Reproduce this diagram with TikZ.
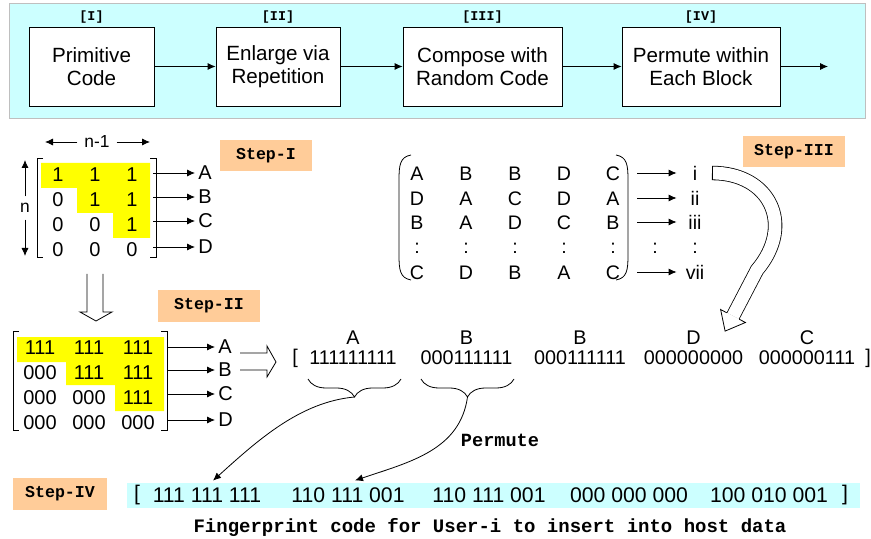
\documentclass[tikz,border=0pt]{standalone}
\usepackage{fontspec}
\setmainfont{Liberation Sans}
\newfontfamily\codefont{Liberation Mono}
\usetikzlibrary{arrows.meta,calc,decorations.pathreplacing,positioning}

\definecolor{skyfill}{HTML}{CCFFFF}
\definecolor{stepfill}{HTML}{FFCC99}
\definecolor{hilite}{HTML}{FFFF00}

\tikzset{
  stage/.style={draw, fill=white, minimum height=39.5pt, align=center, font=\fontsize{10.3}{11.5}\selectfont},
  steplabel/.style={fill=stepfill, minimum width=46pt, minimum height=15.5pt, font=\codefont\bfseries\fontsize{8.3}{10}\selectfont},
  romanlab/.style={font=\codefont\bfseries\fontsize{6.7}{8}\selectfont},
  entry/.style={font=\fontsize{10}{12}\selectfont, inner sep=0pt},
  rowlab/.style={font=\fontsize{10}{12}\selectfont, inner sep=1.5pt},
  codelab/.style={font=\fontsize{9.9}{12}\selectfont},
  arr/.style={-{Latex[length=4pt,width=3.5pt]}},
  hollow/.style={draw, fill=white, line join=miter},
}

\begin{document}
\begin{tikzpicture}[x=0.5pt,y=-0.5pt]
\useasboundingbox (0,0) rectangle (871,539);

% the four stages
\draw[draw=black!25, fill=skyfill] (9,3) rectangle (865,118);
\node[stage, minimum width=62.5pt] (p1) at (91.5,66.5) {Primitive\\Code};
\node[stage, minimum width=62pt] (p2) at (278,66.5) {Enlarge via\\Repetition};
\node[stage, minimum width=79.5pt] (p3) at (482.5,66.5) {Compose with\\Random Code};
\node[stage, minimum width=79pt] (p4) at (701,66.5) {Permute within\\Each Block};
\coordinate (pend) at (828,66.5);
\foreach \a/\b in {p1/p2,p2/p3,p3/p4,p4/pend}
  \draw[arr] (\a) -- (\b);
\foreach \n/\t in {p1/I,p2/II,p3/III,p4/IV}
  \node[romanlab, above=-2pt of \n] {[\t]};

% Step-I: primitive code
\fill[hilite] (41,163) -| (150,238) -| (113,213) -| (77,188) -| (41,163) -- cycle;
\foreach \row [count=\r] in {{1,1,1},{0,1,1},{0,0,1},{0,0,0}}
  \foreach \v [count=\c] in \row
    \node[entry] (a\r\c) at (21+37*\c,150+25*\r) {\v};
\draw (43,158) -- (37,158) -- (37,257) -- (43,257);
\draw (150,158) -- (156,158) -- (156,257) -- (150,257);
\foreach \l/\y in {A/173,B/197,C/221,D/247} {
  \node[rowlab, anchor=west] (u\l) at (195,\y) {\l};
  \draw[arr] (153,\y) -- (u\l.west);
}
\node[font=\fontsize{8.7}{10}\selectfont] (ncol) at (97,142) {n-1};
\draw[arr] (ncol) -- (45,142);
\draw[arr] (ncol) -- (150,142);
\node[font=\fontsize{8.7}{10}\selectfont] (nrow) at (25,208) {n};
\draw[arr] (nrow) -- (25,160);
\draw[arr] (nrow) -- (25,256);
\node[steplabel] (s1) at (266,155.5) {Step-I};

\draw[hollow] (87,274) -- (87,312) -- (80,312) -- (96,321) -- (112,312) -- (103,312) -- (103,274);

% Step-II: repetition
\fill[hilite] (17,337) -| (164,411) -| (115,385) -| (66,362) -| (17,337) -- cycle;
\foreach \row [count=\r] in {{111,111,111},{000,111,111},{000,000,111},{000,000,000}}
  \foreach \v [count=\c] in \row
    \node[entry] (b\r\c) at (-9+49*\c,323+25*\r) {\v};
\draw (19,331) -- (13,331) -- (13,430) -- (19,430);
\draw (161,331) -- (167,331) -- (167,430) -- (161,430);
\foreach \l/\y in {A/347,B/370,C/394,D/420} {
  \node[rowlab, anchor=west] (w\l) at (215,\y) {\l};
  \draw[arr] (167,\y) -- (w\l.west);
}
\node[steplabel, minimum width=51pt] (s2) at (209,306) {Step-II};

\draw[hollow] (240,353) -- (267,353) -- (267,346) -- (276,362) -- (267,377) -- (267,370) -- (240,370);

% Step-III: random code
\foreach \row [count=\r] in {{A,B,B,D,C},{D,A,C,D,A},{B,A,D,C,B},{:,:,:,:,:},{C,D,B,A,C}}
  \foreach \v [count=\c] in \row
    \node[entry, font=\fontsize{9.8}{12}\selectfont] (c\r\c) at (368+49*\c,149+24.75*\r) {\v};
\draw (411,155) .. controls (400,157) and (399,165) .. (399,180) -- (399,255) .. controls (399,270) and (400,278) .. (411,280);
\draw (616,155) .. controls (627,157) and (628,165) .. (628,180) -- (628,255) .. controls (628,270) and (627,278) .. (616,280);
\foreach \n/\t/\y in {1/i/173,2/ii/198,3/iii/222,4/:/248,5/vii/272}
  \node[entry, font=\fontsize{9.8}{12}\selectfont, minimum width=18pt] (v\n) at (695,\y) {\t};
\foreach \n in {1,2,3,5}
  \draw[arr] (637,0 |- v\n) -- (v\n.west);
\node[entry, font=\fontsize{9.8}{12}\selectfont] (vdots) at (655,248) {:};
\node[steplabel, minimum width=51pt] (s3) at (794,151.5) {Step-III};

% curved hollow arrow
\coordinate (ce) at (733,316);
\draw[double=white, double distance=6.4pt] (712,173) .. controls (770,173) and (795,225) .. (757,270) -- (ce);
\draw (712,166) -- (712,180);
\fill[white] (745.4,322.5) -- (725.1,331.1) -- (720.6,309.5) -- cycle;
\draw (739.2,319.2) -- (745.4,322.5) -- (725.1,331.1) -- (720.6,309.5) -- (726.8,312.8);

% code of user i
\node[codelab] (lbr) at (295,358) {[};
\node[codelab] (rbr) at (868,358) {]};
\foreach \l/\v [count=\k] in {A/111111111,B/000111111,B/000111111,D/000000000,C/000000111} {
  \node[codelab] (k\k) at (353+113.5*\k-113.5,358) {\v};
  \node[codelab] (h\k) at (353+113.5*\k-113.5,338) {\l};
}
\draw[decorate, decoration={brace, mirror, amplitude=9pt}] (308,379) -- (401,379);
\draw[decorate, decoration={brace, mirror, amplitude=9pt}] (421,379) -- (514,379);
\coordinate (t1) at (354.5,397);
\coordinate (t2) at (467.5,397);
\node[font=\codefont\bfseries\fontsize{9.3}{11}\selectfont] (perm) at (500,440) {Permute};

% Step-IV: permuted code
\node[steplabel, minimum width=47pt, minimum height=16pt] (s4) at (60,494) {Step-IV};
\fill[skyfill] (127,483) rectangle (860,508);
\node[entry, font=\fontsize{10.6}{12}\selectfont] (q0) at (137,495) {[};
\node[entry, font=\fontsize{10.6}{12}\selectfont] (q6) at (845,495) {]};
\foreach \v/\x [count=\k] in {111 111 111/207,110 111 001/348,110 111 001/489,000 000 000/629,100 010 001/769}
  \node[font=\fontsize{10.6}{12}\selectfont] (q\k) at (\x,495) {\v};
\draw[arr] (t1) .. controls (300,402) and (258,440) .. ([xshift=3pt]q1.north);
\draw[arr] (t2) .. controls (460,450) and (410,462) .. ([xshift=3.5pt]q2.north);
\node[font=\codefont\bfseries\fontsize{9.5}{11}\selectfont] (fp) at (490,527) {Fingerprint code for User-i to insert into host data};
\end{tikzpicture}
\end{document}
